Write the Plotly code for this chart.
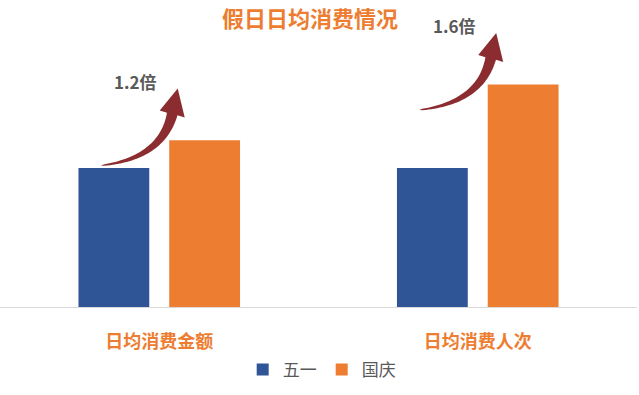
import numpy as np
import plotly.graph_objects as go

# ---------------- data ----------------
categories = ["日均消费金额", "日均消费人次"]
series_names = ["五一", "国庆"]
wuyi_values = [1.0, 1.0]
guoqing_values = [1.2, 1.6]
ratio_labels = ["1.2倍", "1.6倍"]
title_text = "假日日均消费情况"

# ---------------- style ----------------
BLUE = "#2F5597"
ORANGE = "#ED7D31"
GRAY = "#595959"
ARROW = "#8B2D30"
FONT = "Noto Sans CJK SC, Microsoft YaHei, sans-serif"

W, H = 639, 395
M_L, M_R, M_T, M_B = 0, 2, 29, 88
X_RANGE = [-0.5, 1.5]
Y_RANGE = [0, 2.0]
PX_X = (W - M_L - M_R) / (X_RANGE[1] - X_RANGE[0])
PX_Y = (H - M_T - M_B) / (Y_RANGE[1] - Y_RANGE[0])

x_pos = list(range(len(categories)))

fig = go.Figure()
fig.add_trace(go.Bar(x=x_pos, y=wuyi_values, name=series_names[0],
                     marker=dict(color=BLUE, line=dict(width=0))))
fig.add_trace(go.Bar(x=x_pos, y=guoqing_values, name=series_names[1],
                     marker=dict(color=ORANGE, line=dict(width=0))))


def arrow_path(tip_x, tip_y):
    # geometry in pixels relative to the tip (x right, y down)
    tail = np.array([-77.0, 77.0])
    ctrl = np.array([-16.0, 70.0])
    end = np.array([-5.5, 25.5])
    t = np.linspace(0, 1, 40)[:, None]
    B = (1 - t) ** 2 * tail + 2 * (1 - t) * t * ctrl + t ** 2 * end
    D = 2 * (1 - t) * (ctrl - tail) + 2 * t * (end - ctrl)
    N = np.stack([-D[:, 1], D[:, 0]], axis=1)
    N = N / np.linalg.norm(N, axis=1, keepdims=True)
    w = (0.6 + 4.8 * t)
    right = B + N * w
    left = B - N * w
    pts = [tail] + list(left[1:]) + [np.array([-18.0, 22.0]), np.array([0.0, 0.0]),
                                     np.array([7.0, 29.0])] + list(right[1:][::-1])
    coords = [(tip_x + p[0] / PX_X, tip_y - p[1] / PX_Y) for p in pts]
    s = "M " + " L ".join(f"{a:.5f},{b:.5f}" for a, b in coords) + " Z"
    return s


TIP_DX = 0.058   # offset of arrow tip from category centre (data units)
TIP_DY = 0.372   # arrow tip above the 国庆 bar top (data units)
shapes = []
annotations = []
for i, (xv, gv, lab) in enumerate(zip(x_pos, guoqing_values, ratio_labels)):
    tx, ty = xv + TIP_DX, gv + TIP_DY
    shapes.append(dict(type="path", xref="x", yref="y", path=arrow_path(tx, ty),
                       fillcolor=ARROW, line=dict(width=0), layer="above"))
    annotations.append(dict(x=tx, y=ty, xref="x", yref="y", text=f"<b>{lab}</b>",
                            showarrow=False, xshift=-42, yshift=7,
                            font=dict(family=FONT, size=17, color=GRAY)))

fig.update_layout(
    width=W, height=H,
    margin=dict(l=M_L, r=M_R, t=M_T, b=M_B),
    paper_bgcolor="white", plot_bgcolor="white",
    barmode="group", bargap=0.43, bargroupgap=0.22,
    title=dict(text=f"<b>{title_text}</b>", x=310 / W, xanchor="center",
               y=1 - 19 / H, yanchor="middle",
               font=dict(family=FONT, size=22, color=ORANGE)),
    xaxis=dict(range=X_RANGE, tickvals=x_pos,
               ticktext=[f"<b>{c}</b>" for c in categories],
               tickfont=dict(family=FONT, size=18, color=ORANGE),
               showline=True, linecolor="#D9D9D9", linewidth=1,
               showgrid=False, zeroline=False, ticks="", ticklabelstandoff=18,
               fixedrange=True),
    yaxis=dict(range=Y_RANGE, visible=False, showgrid=False, fixedrange=True),
    legend=dict(orientation="h", x=0.505, xanchor="center", y=-63 / (H - M_T - M_B),
                yanchor="middle", font=dict(family=FONT, size=17, color=GRAY),
                itemclick=False, itemdoubleclick=False),
    shapes=shapes,
    annotations=annotations,
    showlegend=True,
)

fig.write_html("out.html", config={"displayModeBar": False},
               post_script="document.body.style.margin='0';document.body.style.overflow='hidden';")
